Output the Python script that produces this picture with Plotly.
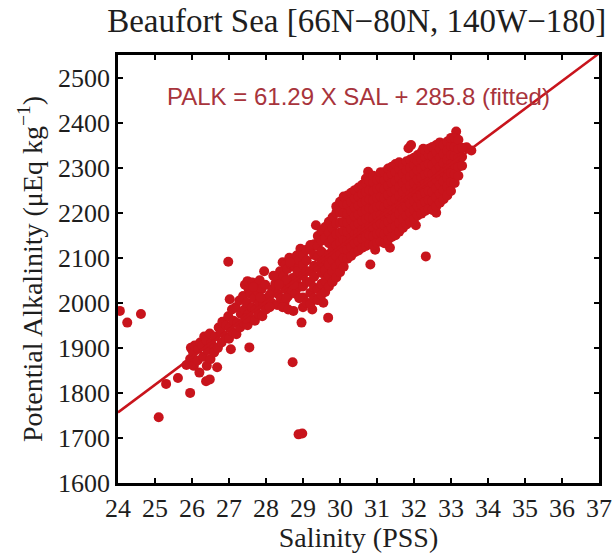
import plotly.graph_objects as go

# ---- data ----
# scattered / sparse samples (salinity, alkalinity)
sparse_sal = [
    24.05, 24.25, 24.62, 25.10, 25.30, 25.62, 25.95, 26.38, 26.48, 26.68,
    27.05, 27.55, 26.98, 27.02, 28.72, 28.88, 28.98, 28.74, 28.96, 29.68,
    27.95, 28.45, 29.35, 32.32, 33.55, 33.42, 31.85, 32.25, 30.82, 33.14,
    30.76, 31.92, 30.95, 31.35, 32.05, 32.60, 29.25, 29.55,
    25.85, 25.95, 25.97, 26.05, 26.03, 26.07, 26.15, 26.17, 26.20, 26.22,
    26.30, 26.28, 26.33, 26.40, 26.42, 26.38, 26.50, 26.52, 26.48, 26.60,
    26.62, 26.70, 26.72, 26.80, 26.78, 26.82, 26.90, 26.92, 27.00, 27.02,
    26.98, 27.10, 27.12, 27.08, 27.20, 27.22, 27.18, 27.30, 27.32, 27.28,
    27.40, 27.42, 27.38, 27.43, 27.50, 27.52, 27.48, 27.53, 27.50, 27.60,
    27.62, 27.58, 27.63, 27.70, 27.72, 27.68, 27.73, 27.80, 27.82, 27.78,
    27.83, 27.90, 27.92, 27.88, 28.00, 28.02, 27.98, 28.15, 28.17, 28.30,
    28.32, 28.28, 28.40, 28.42, 28.38, 28.50, 28.52, 28.48, 28.53, 28.60,
    28.62, 28.58, 28.63, 28.70, 28.72, 28.68, 28.80, 28.82, 28.78, 28.83,
    28.90, 28.92, 28.88, 28.93, 27.45, 27.65, 27.85, 28.10, 28.25, 28.55,
    28.10, 28.20, 28.35, 28.45, 28.55, 28.65, 28.75, 28.85, 28.90, 28.60,
]
sparse_alk = [
    1982, 1956, 1975, 1746, 1820, 1833, 1800, 1826, 1830, 1857,
    1897, 1901, 2091, 2008, 1868, 1708, 1710, 1982, 1956, 1967,
    2070, 2090, 2172, 2103, 2338, 2345, 2343, 2342, 2085, 2380,
    2291, 2350, 2118, 2122, 2172, 2200, 1985, 2000,
    1862, 1875, 1900, 1860, 1890, 1905, 1872, 1898, 1845, 1912,
    1880, 1905, 1925, 1860, 1895, 1918, 1875, 1910, 1932, 1890,
    1925, 1900, 1945, 1912, 1935, 1958, 1925, 1950, 1920, 1945,
    1970, 1935, 1960, 1985, 1930, 1955, 1990, 1945, 1975, 2005,
    1955, 1985, 2015, 2040, 1950, 1975, 2000, 2030, 2048, 1965,
    1990, 2020, 2045, 1960, 1985, 2010, 2038, 1975, 2000, 2025,
    2050, 1970, 1995, 2030, 1985, 2010, 2040, 2000, 2030, 1995,
    2020, 2055, 2010, 2045, 2070, 2000, 2030, 2060, 2085, 2015,
    2045, 2075, 2100, 2025, 2055, 2085, 2020, 2050, 2080, 2105,
    2035, 2065, 2095, 2120, 1965, 2035, 2012, 2018, 2042, 2050,
    1990, 2060, 2040, 1990, 2010, 2090, 2040, 2070, 2010, 1985,
]

# dense core of the cloud: salinity of each column and the alkalinities seen in it
core_sal = [
    29.00, 29.10, 29.20, 29.30, 29.40, 29.50, 29.60, 29.70, 29.80, 29.90,
    30.00, 30.10, 30.20, 30.30, 30.40, 30.50, 30.60, 30.70, 30.80, 30.90,
    31.00, 31.10, 31.20, 31.30, 31.40, 31.50, 31.60, 31.70, 31.80, 31.90,
    32.00, 32.10, 32.20, 32.30, 32.40, 32.50, 32.60, 32.70, 32.80, 32.90,
    33.00, 33.10, 33.20, 33.30,
]
core_alk = [
    [1990, 2012, 2036, 2060, 2084, 2106],
    [2000, 2046, 2070, 2094, 2118],
    [1998, 2022, 2046, 2070, 2118, 2128],
    [2010, 2034, 2058, 2082, 2106, 2130],
    [2006, 2030, 2078, 2102, 2126, 2148],
    [2018, 2042, 2066, 2090, 2114, 2138, 2160],
    [2024, 2048, 2072, 2096, 2144, 2168],
    [2036, 2060, 2084, 2108, 2132, 2156, 2180],
    [2046, 2070, 2094, 2118, 2142, 2166, 2190],
    [2056, 2080, 2104, 2128, 2152, 2176, 2200, 2214],
    [2068, 2090, 2112, 2134, 2156, 2178, 2200, 2224],
    [2080, 2100, 2120, 2140, 2160, 2180, 2200, 2220, 2236],
    [2098, 2118, 2138, 2158, 2178, 2198, 2218, 2238],
    [2104, 2124, 2144, 2164, 2184, 2204, 2224, 2244],
    [2112, 2132, 2152, 2172, 2192, 2212, 2232, 2250],
    [2116, 2136, 2156, 2176, 2196, 2216, 2236, 2256],
    [2122, 2142, 2162, 2182, 2202, 2222, 2242, 2262],
    [2126, 2146, 2166, 2186, 2206, 2226, 2246, 2266, 2276],
    [2130, 2150, 2170, 2190, 2210, 2230, 2250, 2270],
    [2128, 2148, 2168, 2188, 2208, 2228, 2248, 2268, 2282],
    [2134, 2154, 2174, 2194, 2214, 2234, 2254, 2274],
    [2136, 2156, 2176, 2196, 2216, 2236, 2256, 2276, 2290],
    [2132, 2152, 2172, 2192, 2212, 2232, 2252, 2272, 2290],
    [2140, 2160, 2180, 2200, 2220, 2240, 2260, 2280, 2298],
    [2146, 2166, 2186, 2206, 2226, 2246, 2266, 2286, 2302],
    [2150, 2170, 2190, 2210, 2230, 2250, 2270, 2290, 2308],
    [2158, 2178, 2198, 2218, 2238, 2258, 2278, 2298, 2312],
    [2166, 2186, 2206, 2226, 2246, 2266, 2286, 2306],
    [2174, 2194, 2214, 2234, 2254, 2274, 2294, 2314],
    [2180, 2200, 2220, 2240, 2260, 2280, 2300, 2318],
    [2186, 2206, 2226, 2246, 2266, 2286, 2306, 2322],
    [2194, 2214, 2234, 2254, 2274, 2294, 2314, 2328],
    [2198, 2218, 2238, 2258, 2278, 2298, 2318, 2334],
    [2204, 2224, 2244, 2264, 2284, 2304, 2324, 2338],
    [2208, 2228, 2248, 2268, 2288, 2308, 2328, 2342],
    [2206, 2226, 2246, 2266, 2286, 2306, 2326, 2346],
    [2214, 2234, 2254, 2274, 2294, 2314, 2334, 2350],
    [2222, 2242, 2262, 2282, 2302, 2322, 2342, 2356],
    [2230, 2250, 2270, 2290, 2310, 2330, 2350],
    [2238, 2258, 2278, 2298, 2318, 2338, 2358],
    [2248, 2268, 2288, 2308, 2328, 2348, 2366],
    [2266, 2286, 2306, 2326, 2346, 2366],
    [2282, 2302, 2322, 2342, 2362],
    [2304, 2324, 2344],
]
assert len(sparse_sal) == len(sparse_alk)
assert len(core_sal) == len(core_alk)

fit_slope = 61.29
fit_intercept = 285.8
fit_sal = [24, 37]
fit_label = "PALK = 61.29 X SAL + 285.8 (fitted)"

x_ticks = list(range(24, 38))
y_ticks = list(range(1600, 2501, 100))

# table of all points built from the arrays above
salinity = list(sparse_sal)
alkalinity = list(sparse_alk)
for s, col in zip(core_sal, core_alk):
    salinity += [s] * len(col)
    alkalinity += col

RED = "#C8141C"
SERIF = "Liberation Serif, Times New Roman, Times, serif"
TXT = "#1e1e1e"

fig = go.Figure()
fig.add_trace(go.Scatter(
    x=salinity, y=alkalinity, mode="markers",
    marker=dict(symbol="circle", size=10, color=RED, line=dict(width=0)),
    showlegend=False, hoverinfo="skip",
))
fig.add_trace(go.Scatter(
    x=fit_sal, y=[fit_slope * s + fit_intercept for s in fit_sal], mode="lines",
    line=dict(color=RED, width=2.5), showlegend=False, hoverinfo="skip",
))

fig.add_annotation(
    x=0.501, y=0.902, xref="paper", yref="paper", text=fit_label, showarrow=False,
    font=dict(family="Liberation Sans, Arial, sans-serif", size=24, color="#A8343C"),
    xanchor="center", yanchor="middle",
)

axis_common = dict(
    showline=True, linecolor="black", linewidth=2.5, mirror="ticks",
    ticks="inside", ticklen=5, tickwidth=2, tickcolor="black",
    showgrid=False, zeroline=False, automargin=False,
    tickfont=dict(family=SERIF, size=26, color=TXT),
)

fig.update_layout(
    width=615, height=553,
    margin=dict(l=118, r=16, t=55, b=70),
    paper_bgcolor="white", plot_bgcolor="white",
    title=dict(
        text="Beaufort Sea [66N\u221280N, 140W\u2212180]",
        font=dict(family=SERIF, size=33, color=TXT),
        x=0.58, xanchor="center", y=1 - 20 / 553, yanchor="middle", yref="container",
    ),
    xaxis=dict(
        range=[24, 37], tickvals=x_ticks, ticktext=[str(t) for t in x_ticks],
        title=dict(text="Salinity (PSS)", font=dict(family=SERIF, size=28, color=TXT), standoff=8),
        **axis_common,
    ),
    yaxis=dict(
        range=[1600, 2550], tickvals=y_ticks, ticktext=[str(t) for t in y_ticks],
        title=dict(text="Potential Alkalinity (\u03bcEq kg<sup>\u22121</sup>)",
                   font=dict(family=SERIF, size=28, color=TXT), standoff=8),
        **axis_common,
    ),
)

fig.write_html("out.html")
